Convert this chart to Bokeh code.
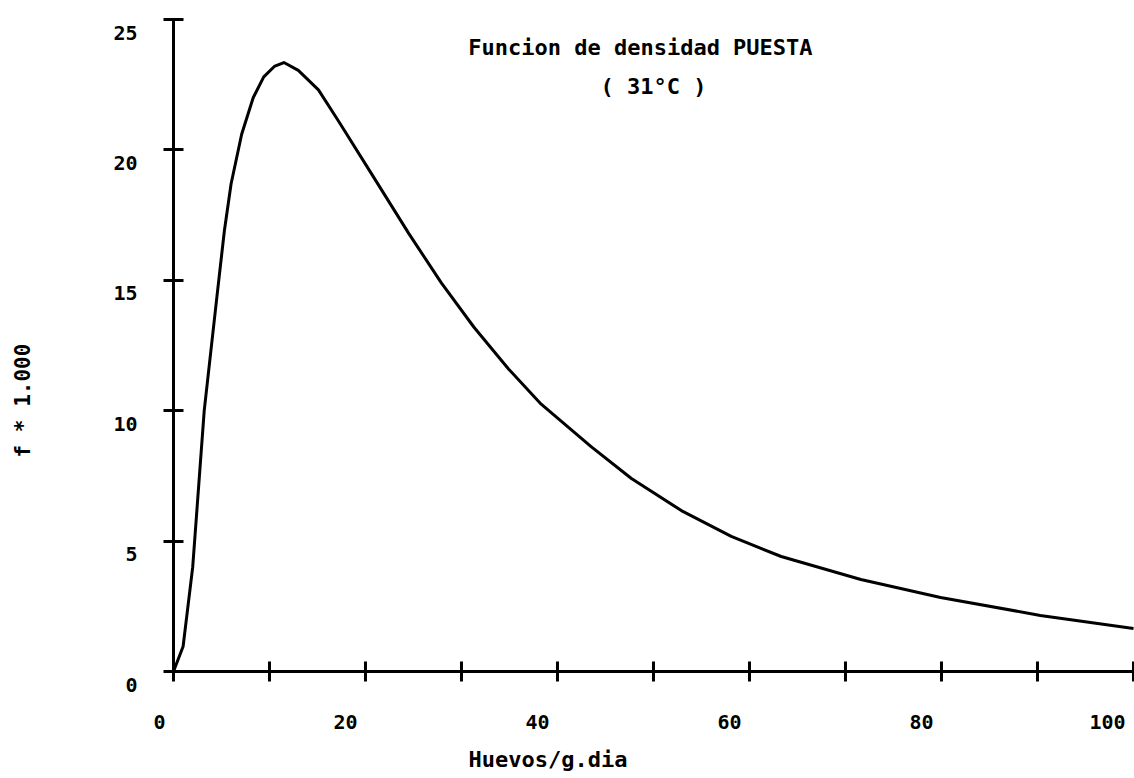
from bokeh.plotting import figure
from bokeh.models import Range1d, FixedTicker, ColumnDataSource, LabelSet, Label
from bokeh.core.properties import value
from bokeh.embed import file_html
from bokeh.resources import INLINE
import math

# ---- data ----
huevos = [0, 1.0, 2.0, 3.2, 4.5, 5.3, 6.0, 7.1, 8.3, 9.4, 10.5, 11.5, 13.0, 15.1,
          17.2, 20.6, 24.5, 27.9, 31.3, 34.9, 38.3, 43.5, 47.7, 52.9, 58.1, 63.3,
          71.6, 79.9, 90.3, 100.0]
densidad = [0, 0.96, 4.0, 10.0, 14.3, 16.9, 18.7, 20.6, 22.0, 22.8, 23.2, 23.35,
            23.05, 22.3, 21.1, 19.1, 16.8, 14.9, 13.2, 11.6, 10.25, 8.62, 7.4, 6.17,
            5.18, 4.41, 3.53, 2.84, 2.15, 1.65]

x_ticks = [0, 10, 20, 30, 40, 50, 60, 70, 80, 90, 100]
x_label_pos = [0, 20, 40, 60, 80, 100]
x_labels = ["0", "20", "40", "60", "80", "100"]
y_ticks = [0, 5, 10, 15, 20, 25]
y_labels = ["0", "5", "10", "15", "20", "25"]

title_1 = "Funcion de densidad  PUESTA"
title_2 = "( 31°C )"
x_title = "Huevos/g.dia"
y_title = "f * 1.000"

FONT = "DejaVu Sans Mono"
W, H = 1134, 776
X0_PX, XPX = 173, 9.6        # pixel of x=0, pixels per x unit
Y0_PX, YPX = 671, 26.08      # pixel of y=0 (from top), pixels per y unit

p = figure(width=W, height=H, output_backend="svg", toolbar_location=None,
           x_range=Range1d(-X0_PX / XPX, (W - X0_PX) / XPX),
           y_range=Range1d(-(H - Y0_PX) / YPX, Y0_PX / YPX),
           min_border_left=0, min_border_right=0, min_border_top=0,
           min_border_bottom=0)
p.outline_line_color = None
p.grid.visible = False
p.background_fill_color = "white"
p.border_fill_color = "white"

p.line(huevos, densidad, line_color="black", line_width=3, line_join="round")

for ax in (p.xaxis[0], p.yaxis[0]):
    ax.fixed_location = 0
    ax.axis_line_width = 3
    ax.axis_line_color = "black"
    ax.minor_tick_line_width = 3
    ax.minor_tick_line_color = "black"
    ax.minor_tick_in = 10
    ax.minor_tick_out = 10
    ax.major_tick_line_color = None

p.xaxis.bounds = (x_ticks[0], x_ticks[-1])
p.yaxis.bounds = (y_ticks[0], y_ticks[-1])
p.xaxis.ticker = FixedTicker(ticks=[], minor_ticks=x_ticks)
p.yaxis.ticker = FixedTicker(ticks=[], minor_ticks=y_ticks)

xsrc = ColumnDataSource(dict(x=x_label_pos, y=[0] * len(x_label_pos), t=x_labels))
p.add_layout(LabelSet(x="x", y="y", text="t", source=xsrc, x_offset=-8, y_offset=-50,
                      text_align="right", text_baseline="middle",
                      text_font=value(FONT), text_font_style="bold",
                      text_font_size="20px", text_color="black"))

ysrc = ColumnDataSource(dict(x=[0] * len(y_ticks), y=y_ticks, t=y_labels))
p.add_layout(LabelSet(x="x", y="y", text="t", source=ysrc, x_offset=-36, y_offset=-13,
                      text_align="right", text_baseline="middle",
                      text_font=value(FONT), text_font_style="bold",
                      text_font_size="20px", text_color="black"))

p.add_layout(Label(x=30.7, y=23.93, text=title_1, text_align="left",
                   text_baseline="middle", text_font=FONT, text_font_style="bold",
                   text_font_size="22px", text_color="black"))
p.add_layout(Label(x=50, y=22.45, text=title_2, text_align="center",
                   text_baseline="middle", text_font=FONT, text_font_style="bold",
                   text_font_size="22px", text_color="black"))
p.add_layout(Label(x=39, y=0, y_offset=-88, text=x_title, text_align="center",
                   text_baseline="middle", text_font=FONT, text_font_style="bold",
                   text_font_size="22px", text_color="black"))
p.add_layout(Label(x=0, y=10.39, x_offset=-151, text=y_title, angle=math.pi / 2,
                   text_align="center", text_baseline="middle", text_font=FONT,
                   text_font_style="bold", text_font_size="21px", text_color="black"))

open("out.html", "w").write(file_html(p, INLINE))
